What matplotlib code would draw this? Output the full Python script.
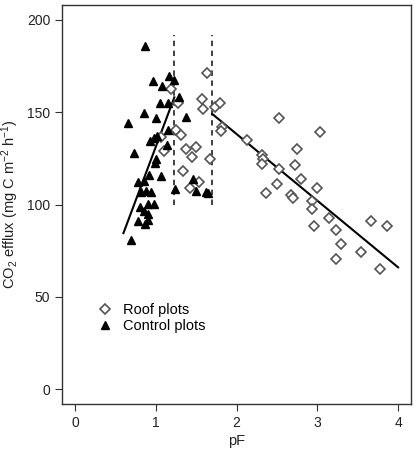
import numpy as np
import matplotlib.pyplot as plt

plt.rcParams['font.family'] = ['Liberation Sans', 'DejaVu Sans']
plt.rcParams['mathtext.fontset'] = 'custom'
plt.rcParams['mathtext.rm'] = 'Liberation Sans'
plt.rcParams['mathtext.it'] = 'Liberation Sans'

# control plots (triangles)
ctrl_pf = [0.87, 1.17, 1.23, 0.96, 1.08, 1.29, 1.05, 1.15, 0.86, 1.00, 0.66, 1.37,
           1.155, 1.02, 0.98, 0.93, 1.135, 0.73, 1.00, 0.99, 0.92, 1.06, 0.78, 0.85,
           0.82, 0.88, 0.94, 0.80, 0.90, 0.98, 0.85, 0.90, 0.78, 0.90, 0.87, 0.69,
           1.24, 1.46, 1.50, 1.62, 1.65]
ctrl_co2 = [186, 169.6, 167.5, 166.6, 164.4, 158.4, 155, 155, 149.4, 147, 144, 147.6,
            140.5, 137.1, 136.2, 134.4, 132.2, 127.7, 124.5, 122.7, 116, 115.6, 112.4, 112.9,
            106.6, 107.4, 106.9, 98.8, 100.3, 100.3, 96.6, 94.9, 91.2, 91.6, 89.4, 80.8,
            108.4, 113.7, 107.5, 106.6, 106.4]

# roof plots (diamonds)
roof_pf = [1.63, 1.185, 1.57, 1.58, 1.27, 1.73, 1.80, 2.53, 3.03, 1.82, 1.81, 1.25,
           1.31, 2.13, 2.75, 1.50, 1.375, 1.07, 1.105, 1.445, 1.67, 2.32, 2.33, 2.32,
           2.53, 2.72, 1.34, 2.80, 2.50, 2.99, 1.54, 1.42, 2.37, 2.67, 2.70, 2.93,
           2.93, 3.14, 3.23, 2.96, 3.66, 3.86, 3.29, 3.54, 3.23, 3.77]
roof_co2 = [171.4, 162.4, 157.2, 151.6, 155.2, 153, 154.8, 146.7, 139.1, 142.2, 139.8, 140.4,
            137.7, 135, 130.1, 131.3, 129.9, 136.8, 129.2, 125.6, 124.5, 126.8, 124.5, 121.8,
            119.2, 121.4, 118.3, 113.7, 111.1, 109.1, 112, 109.1, 106.4, 105.1, 103.3, 102.1,
            97.6, 92.5, 86.2, 88.3, 91.1, 88.5, 78.4, 74.4, 70.5, 64.9]

# fitted segments and breakpoints
ctrl_fit_x = [0.6, 1.23]
ctrl_fit_y = [84.5, 158]
roof_fit_x = [1.7, 4.0]
roof_fit_y = [149, 66]
breaks = [1.23, 1.7]
break_ylo, break_yhi = 100, 192

fig = plt.figure(figsize=(4.19, 4.53), dpi=100)
ax = fig.add_axes([0.148, 0.108, 0.833, 0.881])

for b in breaks:
    ax.plot([b, b], [break_ylo, break_yhi], color='#333333', lw=1.3, ls=(0, (3, 2.5)))
ax.plot(ctrl_fit_x, ctrl_fit_y, color='black', lw=1.5)
ax.plot(roof_fit_x, roof_fit_y, color='black', lw=1.5)

ax.plot(roof_pf, roof_co2, ls='none', marker='D', ms=5.5, mfc='white', mec='#555555',
        mew=1.2, label='Roof plots')
ax.plot(ctrl_pf, ctrl_co2, ls='none', marker='^', ms=6, color='black', label='Control plots')

ax.set_xlim(-0.16, 4.16)
ax.set_ylim(-8, 208)
ax.set_xticks([0, 1, 2, 3, 4])
ax.set_yticks([0, 50, 100, 150, 200])
ax.tick_params(labelsize=10, length=5, color='#333333', labelcolor='#222222')
for s in ax.spines.values():
    s.set_color('#333333')
    s.set_linewidth(1)

ax.set_xlabel('pF', fontsize=10.5, color='#222222', labelpad=3)
ax.set_ylabel('CO$_2$ efflux (mg C m$^{-2}$ h$^{-1}$)', fontsize=10.5, color='#222222', labelpad=4)

ax.legend(loc='center left', bbox_to_anchor=(0.08, 0.215), frameon=False, fontsize=10.5,
          handletextpad=0.7, labelspacing=0.15, handlelength=1.2, borderaxespad=0)

fig.savefig('out.png', dpi=100)
